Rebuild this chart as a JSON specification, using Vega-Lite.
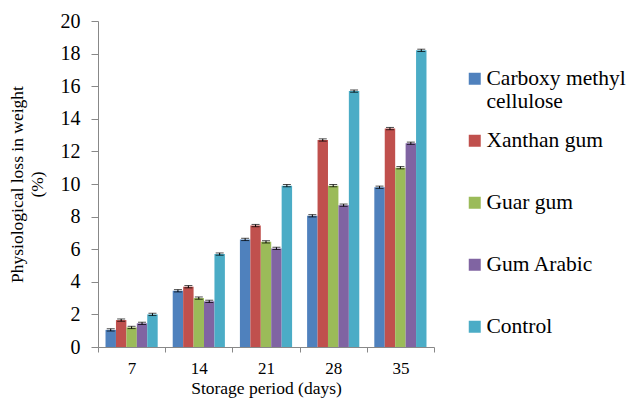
{
  "$schema": "https://vega.github.io/schema/vega-lite/v6.json",
  "autosize": {"type": "none"},
  "width": 336,
  "height": 326,
  "padding": {"left": 98, "top": 21, "right": 196, "bottom": 52},
  "background": "white",
  "config": {
    "view": {"stroke": null},
    "font": "Liberation Serif",
    "axis": {"labelFont": "Liberation Serif", "titleFont": "Liberation Serif", "titleFontWeight": "normal", "labelColor": "#000", "titleColor": "#000", "domainColor": "#888", "tickColor": "#888"},
    "legend": {"labelFont": "Liberation Serif"}
  },
  "data": {"values": [
    {"day": "7", "treatment": "Carboxy methyl cellulose", "v": 1.05, "lo": 0.98, "hi": 1.12},
    {"day": "7", "treatment": "Xanthan gum", "v": 1.65, "lo": 1.58, "hi": 1.72},
    {"day": "7", "treatment": "Guar gum", "v": 1.2, "lo": 1.13, "hi": 1.27},
    {"day": "7", "treatment": "Gum Arabic", "v": 1.45, "lo": 1.38, "hi": 1.52},
    {"day": "7", "treatment": "Control", "v": 2.0, "lo": 1.93, "hi": 2.07},
    {"day": "14", "treatment": "Carboxy methyl cellulose", "v": 3.45, "lo": 3.38, "hi": 3.52},
    {"day": "14", "treatment": "Xanthan gum", "v": 3.7, "lo": 3.63, "hi": 3.77},
    {"day": "14", "treatment": "Guar gum", "v": 3.0, "lo": 2.93, "hi": 3.07},
    {"day": "14", "treatment": "Gum Arabic", "v": 2.8, "lo": 2.73, "hi": 2.87},
    {"day": "14", "treatment": "Control", "v": 5.7, "lo": 5.63, "hi": 5.77},
    {"day": "21", "treatment": "Carboxy methyl cellulose", "v": 6.6, "lo": 6.53, "hi": 6.67},
    {"day": "21", "treatment": "Xanthan gum", "v": 7.45, "lo": 7.38, "hi": 7.52},
    {"day": "21", "treatment": "Guar gum", "v": 6.45, "lo": 6.38, "hi": 6.52},
    {"day": "21", "treatment": "Gum Arabic", "v": 6.05, "lo": 5.98, "hi": 6.12},
    {"day": "21", "treatment": "Control", "v": 9.9, "lo": 9.83, "hi": 9.97},
    {"day": "28", "treatment": "Carboxy methyl cellulose", "v": 8.05, "lo": 7.98, "hi": 8.12},
    {"day": "28", "treatment": "Xanthan gum", "v": 12.7, "lo": 12.63, "hi": 12.77},
    {"day": "28", "treatment": "Guar gum", "v": 9.9, "lo": 9.83, "hi": 9.97},
    {"day": "28", "treatment": "Gum Arabic", "v": 8.7, "lo": 8.63, "hi": 8.77},
    {"day": "28", "treatment": "Control", "v": 15.7, "lo": 15.63, "hi": 15.77},
    {"day": "35", "treatment": "Carboxy methyl cellulose", "v": 9.8, "lo": 9.73, "hi": 9.87},
    {"day": "35", "treatment": "Xanthan gum", "v": 13.4, "lo": 13.33, "hi": 13.47},
    {"day": "35", "treatment": "Guar gum", "v": 11.0, "lo": 10.93, "hi": 11.07},
    {"day": "35", "treatment": "Gum Arabic", "v": 12.5, "lo": 12.43, "hi": 12.57},
    {"day": "35", "treatment": "Control", "v": 18.2, "lo": 18.13, "hi": 18.27}
  ]},
  "encoding": {
    "x": {
      "field": "day", "type": "ordinal", "sort": ["7", "14", "21", "28", "35"],
      "scale": {"paddingInner": 0, "paddingOuter": 0},
      "axis": {"title": "Storage period (days)", "labelAngle": 0, "labelFontSize": 17, "titleFontSize": 17.5, "tickBand": "extent", "tickSize": 5, "labelPadding": 8, "titlePadding": 3}
    },
    "xOffset": {
      "field": "treatment", "type": "nominal",
      "sort": ["Carboxy methyl cellulose", "Xanthan gum", "Guar gum", "Gum Arabic", "Control"],
      "scale": {"paddingInner": 0, "paddingOuter": 0.72}
    }
  },
  "layer": [
    {
      "mark": {"type": "bar"},
      "encoding": {
        "y": {
          "field": "v", "type": "quantitative",
          "scale": {"domain": [0, 20]},
          "axis": {"values": [0, 2, 4, 6, 8, 10, 12, 14, 16, 18, 20], "labelOverlap": false, "grid": false, "title": ["Physiological loss in weight", "(%)"], "labelFontSize": 20, "titleFontSize": 17.5, "tickSize": 7, "labelPadding": 11, "titlePadding": 14, "titleLineHeight": 20}
        },
        "color": {
          "field": "treatment", "type": "nominal",
          "sort": ["Carboxy methyl cellulose", "Xanthan gum", "Guar gum", "Gum Arabic", "Control"],
          "scale": {"range": ["#4F81BD", "#C0504D", "#9BBB59", "#8064A2", "#4BACC6"]},
          "legend": {
            "title": null, "orient": "none", "legendX": 366, "legendY": 47,
            "symbolType": "square", "symbolSize": 144, "symbolStrokeWidth": 0,
            "labelFontSize": 21.5, "labelColor": "#000",
            "labelLimit": 220, "labelOffset": 1, "labelLineHeight": 26, "labelBaseline": "middle",
            "rowPadding": 16,
            "labelExpr": "datum.label == 'Carboxy methyl cellulose' ? ['Carboxy methyl', 'cellulose'] : [datum.label, ' ']"
          }
        }
      }
    },
    {
      "mark": {"type": "rule", "color": "#000", "strokeWidth": 1},
      "encoding": {"y": {"field": "lo", "type": "quantitative", "axis": {"values": [0, 2, 4, 6, 8, 10, 12, 14, 16, 18, 20], "labelOverlap": false, "grid": false, "title": ["Physiological loss in weight", "(%)"], "labelFontSize": 20, "titleFontSize": 17.5, "tickSize": 7, "labelPadding": 11, "titlePadding": 14, "titleLineHeight": 20}}, "y2": {"field": "hi"}}
    },
    {
      "mark": {"type": "tick", "color": "#000", "thickness": 1, "size": 8},
      "encoding": {"y": {"field": "lo", "type": "quantitative", "axis": {"values": [0, 2, 4, 6, 8, 10, 12, 14, 16, 18, 20], "labelOverlap": false, "grid": false, "title": ["Physiological loss in weight", "(%)"], "labelFontSize": 20, "titleFontSize": 17.5, "tickSize": 7, "labelPadding": 11, "titlePadding": 14, "titleLineHeight": 20}}}
    },
    {
      "mark": {"type": "tick", "color": "#000", "thickness": 1, "size": 8},
      "encoding": {"y": {"field": "hi", "type": "quantitative", "axis": {"values": [0, 2, 4, 6, 8, 10, 12, 14, 16, 18, 20], "labelOverlap": false, "grid": false, "title": ["Physiological loss in weight", "(%)"], "labelFontSize": 20, "titleFontSize": 17.5, "tickSize": 7, "labelPadding": 11, "titlePadding": 14, "titleLineHeight": 20}}}
    }
  ]
}
